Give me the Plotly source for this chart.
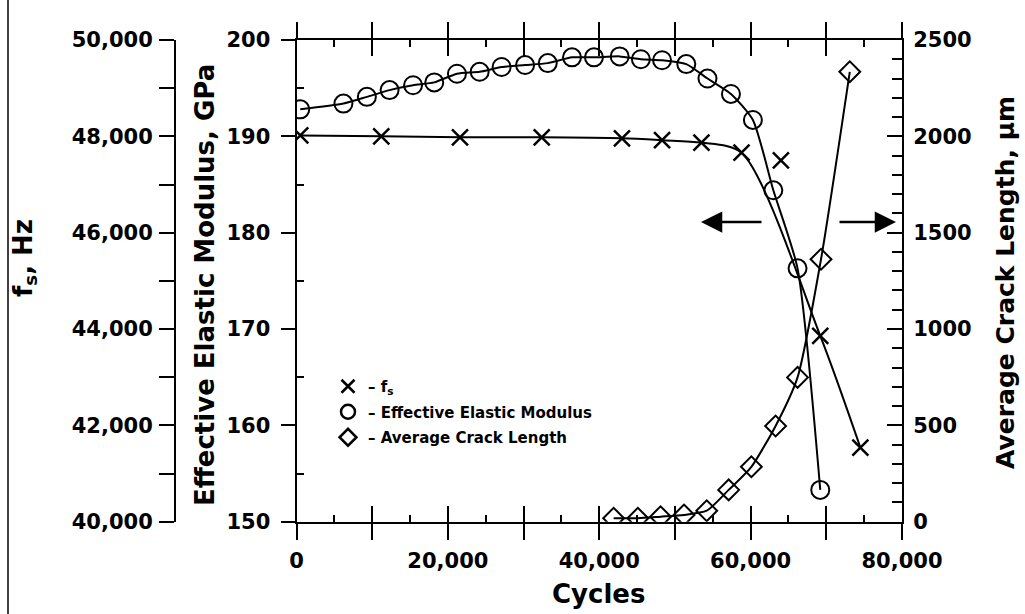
import plotly.graph_objects as go

# ---------------- data ----------------
cycles_fs = [500, 11200, 21600, 32400, 43000, 48300, 53500, 58800, 64000, 69200, 74500]
fs_hz = [48020, 48000, 47980, 47980, 47960, 47920, 47870, 47660, 47500, 43860, 41540]
fs_outliers = [8]  # index of the point not on the fitted curve

cycles_mod = [500, 6200, 9300, 12300, 15400, 18200, 21200, 24200, 27100, 30200, 33200,
              36400, 39300, 42700, 45500, 48300, 51500, 54300, 57400, 60300, 63000, 66200, 69200]
modulus_gpa = [192.8, 193.4, 194.1, 194.8, 195.3, 195.6, 196.5, 196.7, 197.2, 197.4, 197.6,
               198.2, 198.2, 198.3, 198.0, 197.9, 197.5, 196.0, 194.4, 191.7, 184.4, 176.3, 153.3]

cycles_crack = [41900, 45100, 48100, 51200, 54200, 57100, 60100, 63300, 66200, 69300, 73100]
crack_um = [18, 18, 26, 35, 57, 165, 285, 497, 749, 1362, 2335]

x_labeled = list(range(0, 80001, 20000))
x_unlabeled = list(range(10000, 80000, 20000))
x_major = list(range(0, 80001, 10000))
x_minor = list(range(5000, 80000, 10000))
mod_ticks = list(range(150, 201, 10))
mod_minor = list(range(155, 200, 10))
crack_ticks = list(range(0, 2501, 500))
crack_minor = [v for v in range(0, 2501, 100) if v % 500 != 0]
fs_labeled = list(range(40000, 50001, 2000))
fs_unlabeled = list(range(41000, 50000, 2000))

# ---------------- layout geometry ----------------
W, H = 1025, 614
PX0, PX1 = 296.5, 902.0      # plot left/right in px
PY0, PY1 = 40.0, 521.7       # plot top/bottom in px
xdom = [PX0 / W, PX1 / W]
ydom = [1 - PY1 / H, 1 - PY0 / H]

FONT = "DejaVu Sans"
tickfont = dict(family=FONT, size=21, color="black", weight="bold")
titlefont = dict(family=FONT, size=26, color="black", weight="bold")

fig = go.Figure()

# fs curve (fit, excluding outlier) and markers
fs_line_x = [x for i, x in enumerate(cycles_fs) if i not in fs_outliers]
fs_line_y = [y for i, y in enumerate(fs_hz) if i not in fs_outliers]
fig.add_trace(go.Scatter(x=fs_line_x, y=fs_line_y, mode="lines", yaxis="y3",
                         line=dict(color="black", width=2, shape="spline", smoothing=0.8),
                         showlegend=False, hoverinfo="skip"))
fig.add_trace(go.Scatter(x=cycles_fs, y=fs_hz, mode="markers", yaxis="y3",
                         marker=dict(symbol="x-thin-open", size=16, color="black",
                                     line=dict(width=2.5, color="black")),
                         showlegend=False))
# modulus
fig.add_trace(go.Scatter(x=cycles_mod, y=modulus_gpa, mode="lines+markers", yaxis="y",
                         line=dict(color="black", width=2, shape="spline", smoothing=0.6),
                         marker=dict(symbol="circle-open", size=18, color="black",
                                     line=dict(width=2, color="black")),
                         showlegend=False))
# crack length
fig.add_trace(go.Scatter(x=cycles_crack, y=crack_um, mode="lines+markers", yaxis="y2",
                         line=dict(color="black", width=2, shape="spline", smoothing=0.6),
                         marker=dict(symbol="diamond-open", size=16, color="black",
                                     line=dict(width=2, color="black")),
                         showlegend=False))

# dummy trace to build the overlay x axis (inside ticks)
fig.add_trace(go.Scatter(x=[None], y=[None], xaxis="x2", yaxis="y", showlegend=False))

# legend entries (markers only)
for sym, name, sz in [("x-thin-open", "– f<sub>s</sub>", 13),
                      ("circle-open", "– Effective Elastic Modulus", 14),
                      ("diamond-open", "– Average Crack Length", 13)]:
    fig.add_trace(go.Scatter(x=[None], y=[None], mode="markers", name=name,
                             legendgroup=name,
                             marker=dict(symbol=sym, size=sz, color="black",
                                         line=dict(width=2.5, color="black"))))

axis_common = dict(showgrid=False, zeroline=False, showline=True, linecolor="black",
                   linewidth=2, tickcolor="black", tickwidth=2, automargin=False)

fig.update_layout(
    width=W, height=H, autosize=False,
    margin=dict(l=0, r=0, t=0, b=0),
    paper_bgcolor="white", plot_bgcolor="white",
    font=dict(family=FONT, color="black"),
    xaxis=dict(domain=xdom, range=[0, 80000], anchor="y",
               tickmode="array", tickvals=x_labeled, tickformat=",d",
               ticks="outside", ticklen=16, mirror="ticks",
               minor=dict(tickmode="array", tickvals=x_unlabeled, ticks="outside",
                          ticklen=16, tickwidth=2, tickcolor="black"),
               tickfont=tickfont, ticklabelstandoff=3, **axis_common),
    xaxis2=dict(domain=xdom, range=[0, 80000], anchor="y", overlaying="x",
                tickmode="array", tickvals=x_major, ticks="inside", ticklen=16,
                mirror="ticks", showticklabels=False,
                minor=dict(tickmode="array", tickvals=x_minor, ticks="inside",
                           ticklen=7, tickwidth=2, tickcolor="black"),
                **axis_common),
    yaxis=dict(domain=ydom, range=[150, 200], anchor="x", side="left",
               tickmode="array", tickvals=mod_ticks, ticks="outside", ticklen=14,
               minor=dict(tickmode="array", tickvals=mod_minor, ticks="inside",
                          ticklen=7, tickwidth=2, tickcolor="black"),
               tickfont=tickfont, ticklabelstandoff=6, **axis_common),
    yaxis2=dict(domain=ydom, range=[0, 2500], anchor="x", overlaying="y", side="right",
                tickmode="array", tickvals=crack_ticks, ticks="inside", ticklen=15,
                minor=dict(tickmode="array", tickvals=crack_minor, ticks="inside",
                           ticklen=10, tickwidth=2, tickcolor="black"),
                tickfont=tickfont, ticklabelstandoff=5, **axis_common),
    yaxis3=dict(domain=ydom, range=[40000, 50000], anchor="free", overlaying="y",
                side="left", position=175 / W,
                tickmode="array", tickvals=fs_labeled, tickformat=",d",
                ticks="outside", ticklen=15, ticklabelstandoff=2,
                minor=dict(tickmode="array", tickvals=fs_unlabeled, ticks="outside",
                           ticklen=15, tickwidth=2, tickcolor="black"),
                tickfont=tickfont, **axis_common),
    legend=dict(x=328 / W, y=1 - 370 / H, xanchor="left", yanchor="top",
                bgcolor="rgba(0,0,0,0)",
                font=dict(family=FONT, size=15, color="black", weight="bold"),
                itemwidth=30, tracegroupgap=3, traceorder="grouped"),
    showlegend=True,
)

annotations = [
    dict(text="f<sub>s</sub>, Hz", xref="paper", yref="paper", x=24 / W, y=1 - 258 / H,
         textangle=-90, showarrow=False, font=titlefont,
         xanchor="center", yanchor="middle"),
    dict(text="Effective Elastic Modulus, GPa", xref="paper", yref="paper",
         x=205 / W, y=1 - 285 / H, textangle=-90, showarrow=False,
         font=titlefont, xanchor="center", yanchor="middle"),
    dict(text="Average Crack Length, µm", xref="paper", yref="paper",
         x=1005 / W, y=1 - 283 / H, textangle=-90, showarrow=False,
         font=dict(family=FONT, size=25, color="black", weight="bold"),
         xanchor="center", yanchor="middle"),
    dict(text="Cycles", xref="paper", yref="paper", x=598 / W, y=1 - 594 / H,
         showarrow=False, font=titlefont,
         xanchor="center", yanchor="middle"),
    # direction arrows
    dict(x=701 / W, y=1 - 222 / H, xref="paper", yref="paper", ax=62, ay=0,
         axref="pixel", ayref="pixel", showarrow=True, arrowhead=2, arrowsize=1.7,
         arrowwidth=2.5, arrowcolor="black", text=""),
    dict(x=896 / W, y=1 - 222 / H, xref="paper", yref="paper", ax=-58, ay=0,
         axref="pixel", ayref="pixel", showarrow=True, arrowhead=2, arrowsize=1.7,
         arrowwidth=2.5, arrowcolor="black", text=""),
]
fig.update_layout(annotations=annotations)

fig.add_shape(type="line", xref="paper", yref="paper", x0=8 / W, x1=8 / W, y0=0, y1=1,
              line=dict(color="black", width=1.5))

fig.write_html("out.html")
